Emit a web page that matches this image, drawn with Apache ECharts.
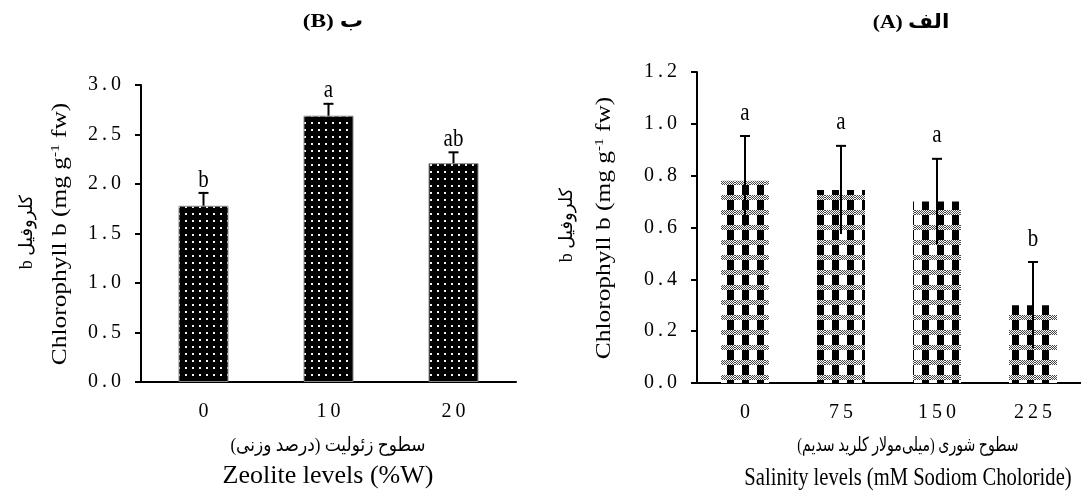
<!DOCTYPE html>
<html>
<head>
<meta charset="utf-8">
<script src="https://cdn.jsdelivr.net/npm/echarts@6/dist/echarts.min.js"></script>
<style>
  html, body { margin: 0; padding: 0; background: #fff; }
  #chart { width: 1081px; height: 498px; }
</style>
</head>
<body>
<div id="chart"></div>
<script>
// (B) zeolite levels
var zeoliteLevels = ['0', '10', '20'];
var zeoliteMeans = [1.78, 2.69, 2.21];
var zeoliteErr = [0.13, 0.12, 0.11];
var zeoliteLetters = ['b', 'a', 'ab'];

// (A) salinity levels
var salinityLevels = ['0', '75', '150', '225'];
var salinityMeans = [0.78, 0.745, 0.70, 0.30];
var salinityErr = [0.173, 0.17, 0.165, 0.167];
var salinityLetters = ['a', 'a', 'a', 'b'];

var serif = '"Liberation Serif", "Times New Roman", "DejaVu Sans", serif';

function spaced(v) {
    return String(v).split('').join('\u2009');
}

// black with white dots
function dotTile() {
    var c = document.createElement('canvas');
    c.width = 7; c.height = 7;
    var ctx = c.getContext('2d');
    ctx.fillStyle = '#000';
    ctx.fillRect(0, 0, 7, 7);
    ctx.fillStyle = '#f2f2f2';
    ctx.fillRect(3, 3, 2, 2);
    return c;
}

// black stripes crossed by grey hatched bands
function checkTile() {
    var c = document.createElement('canvas');
    c.width = 15; c.height = 15;
    var ctx = c.getContext('2d');
    ctx.fillStyle = '#fff';
    ctx.fillRect(0, 0, 15, 15);
    ctx.fillStyle = '#000';
    ctx.fillRect(7, 0, 7, 15);
    for (let i = 0; i < 15; i++) {
        for (let j = 0; j < 5; j++) {
            ctx.fillStyle = ((i + j) % 2 == 0) ? '#444' : '#fff';
            ctx.fillRect(i, j, 1, 1);
        }
    }
    return c;
}

function errorSeries(means, errs, letters, gridIdx, both, labelGap) {
    let data = means.map(function(m, i) { return [i, m, errs[i]]; });
    return {
        type: 'custom',
        xAxisIndex: gridIdx,
        yAxisIndex: gridIdx,
        z: 5,
        data: data,
        renderItem: function(params, api) {
            let x = api.value(0), m = api.value(1), e = api.value(2);
            let top = api.coord([x, m + e]);
            let bot = api.coord([x, both ? m - e : m]);
            return {
                type: 'group',
                children: [
                    { type: 'line', shape: { x1: top[0], y1: top[1], x2: bot[0], y2: bot[1] },
                      style: { stroke: '#000', lineWidth: 2 } },
                    { type: 'line', shape: { x1: top[0] - 5, y1: top[1], x2: top[0] + 5, y2: top[1] },
                      style: { stroke: '#000', lineWidth: 2 } },
                    { type: 'text', x: top[0], y: top[1] - labelGap, scaleY: 1.2,
                      style: { text: letters[params.dataIndex], x: 0, y: 0, align: 'center',
                               verticalAlign: 'middle', fontSize: 21, fontFamily: serif, fill: '#000' } }
                ]
            };
        }
    };
}

function catAxis(levels, gridIdx) {
    return {
        type: 'category',
        gridIndex: gridIdx,
        data: levels,
        axisLine: { lineStyle: { color: '#000', width: 2 } },
        axisTick: { length: 6, lineStyle: { color: '#000', width: 2 } },
        axisLabel: { margin: 20, fontSize: 20, fontFamily: serif, color: '#000', formatter: spaced },
        splitLine: { show: false }
    };
}

function valAxis(max, step, gridIdx) {
    return {
        type: 'value',
        gridIndex: gridIdx,
        min: 0,
        max: max,
        interval: step,
        axisLine: { show: true, lineStyle: { color: '#000', width: 2 } },
        axisTick: { show: true, length: 6, lineStyle: { color: '#000', width: 2 } },
        axisLabel: { margin: 20, fontSize: 20, fontFamily: serif, color: '#000',
                     formatter: function(v) { return spaced(v.toFixed(1)); } },
        splitLine: { show: false }
    };
}

function yTitle(cx, cy) {
    return {
        type: 'text', x: cx, y: cy, rotation: Math.PI / 2, scaleX: 1.27,
        style: {
            text: '{n|Chlorophyll b (mg g}{s|-1}{n| fw)}',
            align: 'center', verticalAlign: 'middle',
            rich: {
                n: { fontSize: 20, fontFamily: serif, fill: '#000', lineHeight: 22 },
                s: { fontSize: 12, fontFamily: serif, fill: '#000', lineHeight: 22, verticalAlign: 'top' }
            }
        }
    };
}

function plainText(txt, cx, cy, size, sx, sy, bold) {
    return {
        type: 'text', x: cx, y: cy, scaleX: sx, scaleY: sy,
        style: { text: txt, align: 'center', verticalAlign: 'middle',
                 font: (bold ? 'bold ' : '') + size + 'px ' + serif, fill: '#000' }
    };
}

let myChart = echarts.init(document.getElementById('chart'));

let option = {
    animation: false,
    grid: [
        { left: 141, top: 85, width: 375, height: 297 },
        { left: 697, top: 72, width: 388, height: 311 }
    ],
    xAxis: [catAxis(zeoliteLevels, 0), catAxis(salinityLevels, 1)],
    yAxis: [valAxis(3, 0.5, 0), valAxis(1.2, 0.2, 1)],
    series: [
        {
            type: 'bar', xAxisIndex: 0, yAxisIndex: 0,
            data: zeoliteMeans, barWidth: '40%',
            itemStyle: { color: { image: dotTile(), repeat: 'repeat' }, borderColor: '#888', borderWidth: 1 }
        },
        {
            type: 'bar', xAxisIndex: 1, yAxisIndex: 1,
            data: salinityMeans, barWidth: '50%',
            itemStyle: { color: { image: checkTile(), repeat: 'repeat' } }
        },
        errorSeries(zeoliteMeans, zeoliteErr, zeoliteLetters, 0, false, 13),
        errorSeries(salinityMeans, salinityErr, salinityLetters, 1, true, 23)
    ],
    graphic: [
        plainText('\u202Bب (B)\u202C', 333, 22, 18, 1.3, 1.1, true),
        plainText('\u202Bالف (A)\u202C', 911, 23, 18, 1.2, 1.1, true),
        yTitle(61, 234),
        yTitle(605, 228),
        { type: 'text', x: 27, y: 232, rotation: Math.PI / 2,
          style: { text: '\u202Bکلروفیل b\u202C', align: 'center', verticalAlign: 'middle',
                   font: '18px ' + serif, fill: '#000' } },
        { type: 'text', x: 567, y: 225, rotation: Math.PI / 2,
          style: { text: '\u202Bکلروفیل b\u202C', align: 'center', verticalAlign: 'middle',
                   font: '18px ' + serif, fill: '#000' } },
        plainText('\u202Bسطوح زئولیت (درصد وزنی)\u202C', 328, 446, 17, 1, 1.15, false),
        plainText('Zeolite levels (%W)', 328, 476, 20, 1.3, 1.25, false),
        plainText('\u202Bسطوح شوری (میلی\u200Cمولار کلرید سدیم)\u202C', 908, 446, 17, 0.83, 1.15, false),
        plainText('Salinity levels (mM Sodiom Choloride)', 908, 478, 20, 1.03, 1.25, false)
    ]
};

myChart.setOption(option);
</script>
</body>
</html>
